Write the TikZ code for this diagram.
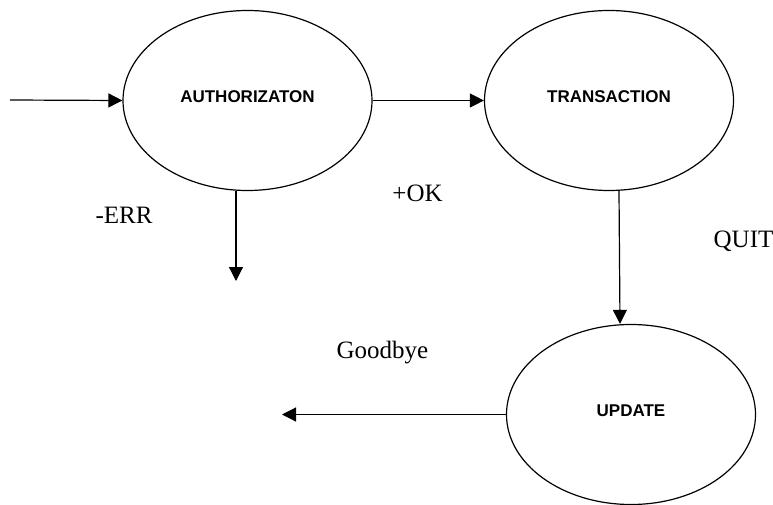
\documentclass[tikz,border=0pt]{standalone}
\usepackage{fontspec}
\setmainfont{Liberation Serif}
\newfontfamily\statefont{Liberation Sans}
\usetikzlibrary{shapes.geometric,arrows.meta}

\begin{document}
\begin{tikzpicture}[x=1pt,y=-1pt,line width=1.2pt,
    >={Triangle[length=14pt,width=14pt]},
    state/.style={draw,ellipse,inner sep=0pt,minimum width=249pt,minimum height=180pt,
                  font=\statefont\bfseries\fontsize{17}{17}\selectfont,
                  text height=12.3pt,text depth=8.5pt},
    reply/.style={anchor=base,font=\fontsize{25}{25}\selectfont}]
    \useasboundingbox (0,0) rectangle (773,505);
    \node [state] (auth)  at (247.5,100.5) {AUTHORIZATON};
    \node [state] (trans) at (609,100.5)   {TRANSACTION};
    \node [state] (upd)   at (631,414.5)   {UPDATE};
    \coordinate (start)  at (10,100);
    \coordinate (errend) at (236,281);
    \coordinate (byeend) at (282,416);
    \draw [->] (start) -- (auth.west);
    \draw [->] (auth.east) -- (trans.west);
    \draw [->] (errend |- auth.south) -- (errend);
    \draw [->] ([xshift=10pt]trans.south) -- ([xshift=-11pt]upd.north);
    \draw [->] (upd.west) -- (byeend |- upd.west);
    \node [reply] (err)  at (124,223)   {-ERR};
    \node [reply] (ok)   at (417.5,201) {+OK};
    \node [reply] (quit) at (743.5,247) {QUIT};
    \node [reply] (bye)  at (382.5,358) {Goodbye};
\end{tikzpicture}
\end{document}
